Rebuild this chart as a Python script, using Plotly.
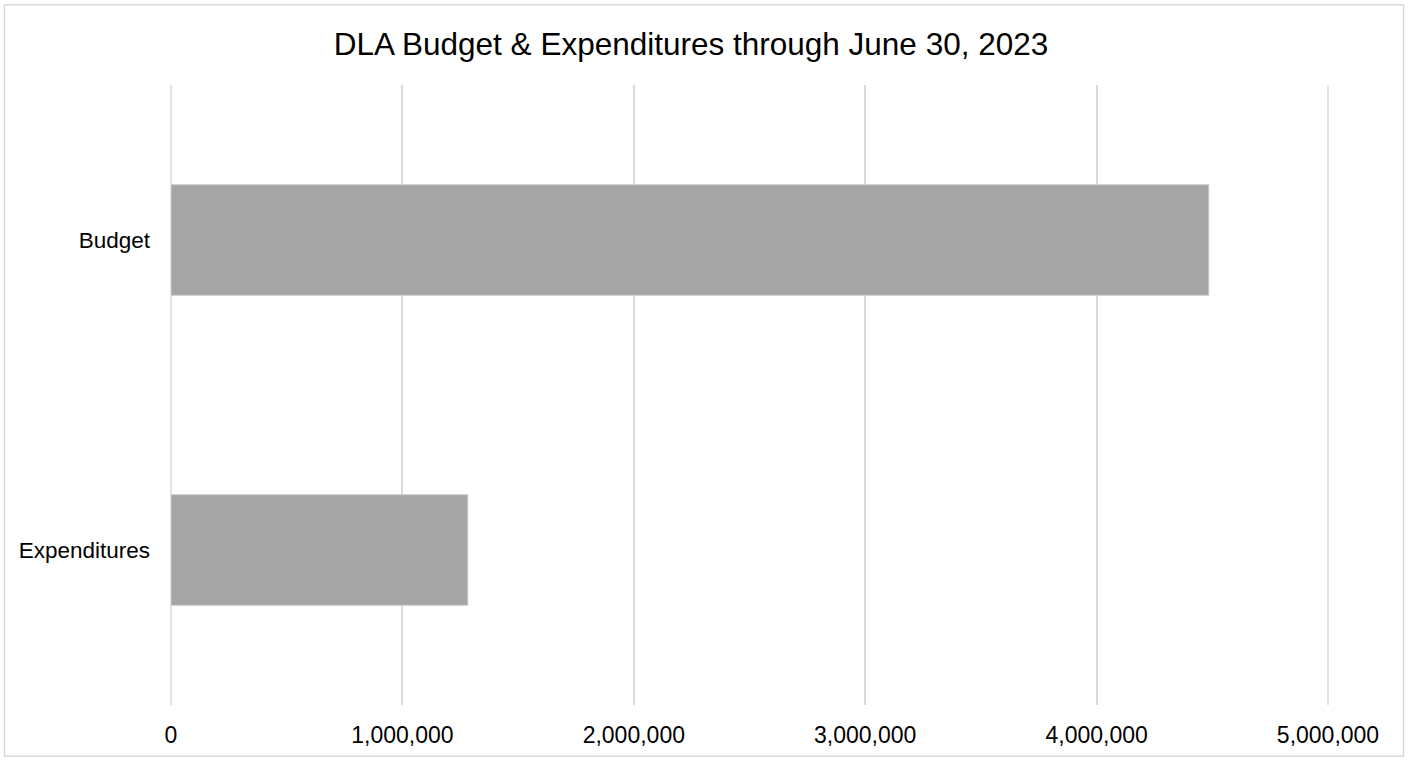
import plotly.graph_objects as go

categories = ["Budget", "Expenditures"]
values = [4485000, 1283000]
tick_vals = [0, 1000000, 2000000, 3000000, 4000000, 5000000]
tick_text = ["0", "1,000,000", "2,000,000", "3,000,000", "4,000,000", "5,000,000"]
title_text = "DLA Budget & Expenditures through June 30, 2023"

W, H = 1411, 760
L, R, T, B = 171, 83, 85, 53
pw, ph = W - L - R, H - T - B
GRID = "#d9d9d9"

fig = go.Figure(go.Bar(
    y=categories, x=values, orientation="h",
    marker=dict(color="#a5a5a5", line=dict(color="#d0d0d0", width=1)),
    width=0.357,
))

fig.update_layout(
    width=W, height=H,
    margin=dict(l=L, r=R, t=T, b=B),
    paper_bgcolor="white", plot_bgcolor="white",
    font=dict(family="Liberation Sans, Arial, sans-serif", color="#000000"),
    title=dict(text=title_text, x=(691 - L) / pw, xanchor="center", xref="paper",
               y=1 - 44 / H, yanchor="middle",
               font=dict(size=31.5, color="#000000")),
    showlegend=False,
)
x_range = [tick_vals[0], tick_vals[-1]]
fig.update_xaxes(range=x_range, tickvals=tick_vals, ticktext=tick_text,
                 showgrid=True, gridcolor=GRID, gridwidth=1.5,
                 zeroline=False, showline=False, ticks="",
                 ticklabelstandoff=14,
                 tickfont=dict(size=23, color="#000000"))
fig.update_yaxes(categoryorder="array", categoryarray=categories, autorange="reversed",
                 showgrid=False, zeroline=False, showline=False, ticks="",
                 ticklabelstandoff=20, tickfont=dict(size=22.5, color="#000000"))

# gridlines at the two range edges (plotly omits them); paper shapes are not clipped
for v in (tick_vals[0], tick_vals[-1]):
    frac = (v - x_range[0]) / (x_range[1] - x_range[0])
    fig.add_shape(type="line", xref="paper", yref="paper", x0=frac, x1=frac, y0=0, y1=1,
                  line=dict(color=GRID, width=1.5), layer="below")

# outer border
fig.add_shape(type="rect", xref="paper", yref="paper",
              x0=(4.5 - L) / pw, x1=(W - 7.5 - L) / pw,
              y0=(H - B - (H - 1.5)) / ph, y1=(H - B - 4.5) / ph,
              line=dict(color=GRID, width=1.5), fillcolor="rgba(0,0,0,0)",
              layer="below")

fig.write_html("out.html")
